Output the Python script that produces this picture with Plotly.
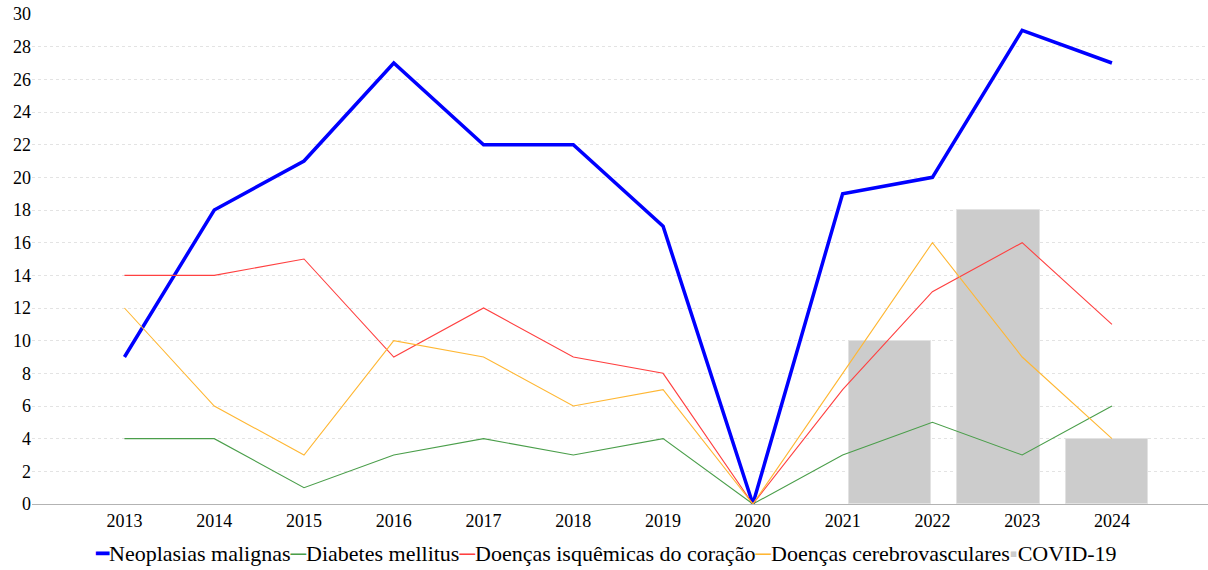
import plotly.graph_objects as go

# Annual counts by cause of death
years = ["2013", "2014", "2015", "2016", "2017", "2018",
         "2019", "2020", "2021", "2022", "2023", "2024"]
neoplasias = [9, 18, 21, 27, 22, 22, 17, 0, 19, 20, 29, 27]
diabetes = [4, 4, 1, 3, 4, 3, 4, 0, 3, 5, 3, 6]
isquemicas = [14, 14, 15, 9, 12, 9, 8, 0, 7, 13, 16, 11]
cerebrovasc = [12, 6, 3, 10, 9, 6, 7, 0, 8, 16, 9, 4]

covid_years = ["2022", "2023", "2024"]
covid = [10, 18, 4]

y_ticks = list(range(0, 31, 2))

FONT = "Liberation Serif"
C_BLUE = "#0000ff"
C_GREEN = "#4a9e4a"
C_RED = "#ff4040"
C_ORANGE = "#ffb733"
C_GRAY = "#cccccc"

fig = go.Figure()

# COVID-19 bars sit on their own (hidden) category axis, beneath the lines
fig.add_trace(go.Bar(
    x=covid_years, y=covid, name="COVID-19",
    marker=dict(color=C_GRAY, line=dict(color="#e2e2e2", width=1)),
    width=0.756, xaxis="x", yaxis="y", showlegend=False,
))

lines = [
    ("Neoplasias malignas", neoplasias, C_BLUE, 3.5),
    ("Diabetes mellitus", diabetes, C_GREEN, 1.1),
    ("Doenças isquêmicas do coração", isquemicas, C_RED, 1.1),
    ("Doenças cerebrovasculares", cerebrovasc, C_ORANGE, 1.1),
]
for name, vals, color, w in lines:
    fig.add_trace(go.Scatter(
        x=years, y=vals, name=name, mode="lines",
        line=dict(color=color, width=w),
        xaxis="x2", yaxis="y", showlegend=False,
    ))

# Inline legend row, centred on the page
legend_html = (
    f"<span style='color:{C_BLUE}'>━</span>Neoplasias malignas"
    f"<span style='color:{C_GREEN}'>─</span>Diabetes mellitus"
    f"<span style='color:{C_RED}'>─</span>Doenças isquêmicas do coração"
    f"<span style='color:{C_ORANGE}'>─</span>Doenças cerebrovasculares"
    f"<span style='color:{C_GRAY}'>▪</span>COVID-19"
)
fig.add_annotation(
    text=legend_html, xref="paper", yref="paper",
    x=0.488, y=-0.1, xanchor="center", yanchor="middle",
    showarrow=False, font=dict(family=FONT, size=22, color="#000000"),
)

fig.update_layout(
    width=1208, height=570,
    margin=dict(l=32, r=0, t=14, b=66),
    paper_bgcolor="white", plot_bgcolor="white",
    font=dict(family=FONT, color="#000000"),
    bargap=0,
    xaxis=dict(
        type="category", categoryorder="array", categoryarray=covid_years,
        range=[-7.908, 2.931], visible=False, fixedrange=True,
    ),
    xaxis2=dict(
        type="category", categoryorder="array", categoryarray=years,
        range=[-1.03, 12.07], overlaying="x", anchor="y", side="bottom",
        showgrid=False, zeroline=False,
        showline=True, linecolor="#b3b3b3", linewidth=1,
        ticks="", tickfont=dict(family=FONT, size=18, color="#000000"),
    ),
    yaxis=dict(
        range=[0, 30], tickvals=y_ticks, ticktext=[str(v) for v in y_ticks],
        showgrid=True, gridcolor="#e3e3e3", griddash="dot", gridwidth=1,
        zeroline=False, showline=False, ticks="",
        tickfont=dict(family=FONT, size=18, color="#000000"),
    ),
)

fig.write_html("out.html")
